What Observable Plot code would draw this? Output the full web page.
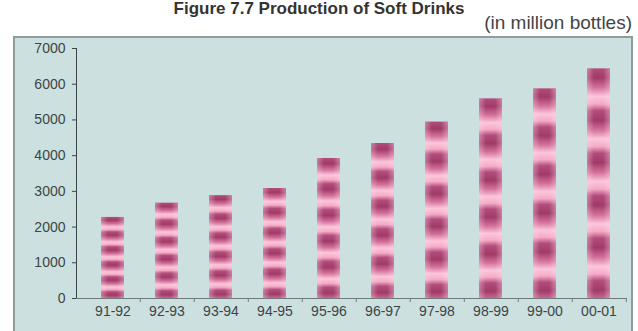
<!DOCTYPE html>
<html>
<head>
<meta charset="utf-8">
<script src="https://cdn.jsdelivr.net/npm/d3@7"></script>
<script src="https://cdn.jsdelivr.net/npm/@observablehq/plot@0.6"></script>
<style>
  html, body { margin: 0; padding: 0; background: #fff; }
  #wrap { position: relative; width: 638px; height: 331px; overflow: hidden;
          font-family: "Liberation Sans", Arial, sans-serif; }
  #panel { position: absolute; left: 13px; top: 36px; width: 616px; height: 320px;
           background: #cde0e0; border: 2px solid #8e9c9c; }
  #title { position: absolute; left: 0; top: 0; width: 638px; text-align: center;
           font-size: 17px; line-height: 17px; font-weight: bold; color: #333; }
  #unit { position: absolute; right: 6px; top: 13px; font-size: 19px; line-height: 19px; color: #444; }
  #chart { position: absolute; left: 0; top: 0; }
</style>
</head>
<body>
<div id="wrap">
  <div id="panel"></div>
  <div id="title">Figure 7.7 Production of Soft Drinks</div>
  <div id="unit">(in million bottles)</div>
  <div id="chart"></div>
</div>
<script>
// Soft drink production by year, in million bottles
const years = ["91-92", "92-93", "93-94", "94-95", "95-96", "96-97", "97-98", "98-99", "99-00", "00-01"];
const bottles = [2270, 2670, 2880, 3080, 3920, 4340, 4940, 5590, 5870, 6430];
const yTicks = [0, 1000, 2000, 3000, 4000, 5000, 6000, 7000];

const data = years.map((year, i) => ({year, bottles: bottles[i]}));

// band layout of the category axis
const W = 638, H = 331;
const mL = 76, mR = 3, mT = 48, mB = 33;
const padInner = 0.58, padOuter = 0.41;
const step = (W - mL - mR) / (years.length - padInner + 2 * padOuter);

// striped candy fill for the bars plus a soft sheen on the sides
const defs = () => {
  const d = d3.create("svg:defs");
  const g = d.append("linearGradient")
    .attr("id", "stripes")
    .attr("x1", 0).attr("y1", 0).attr("x2", 0).attr("y2", 0.185)
    .attr("spreadMethod", "repeat");
  [[0, "#b24c7b"], [0.22, "#a03a69"], [0.45, "#d2709a"], [0.66, "#fcc6da"],
   [0.84, "#f4aac6"], [1, "#b24c7b"]]
    .forEach(([o, c]) => g.append("stop").attr("offset", o).attr("stop-color", c));
  const s = d.append("linearGradient").attr("id", "sheen")
    .attr("x1", 0).attr("y1", 0).attr("x2", 1).attr("y2", 0);
  [[0, 0.4], [0.3, 0], [0.7, 0], [1, 0.4]]
    .forEach(([o, a]) => s.append("stop").attr("offset", o)
      .attr("stop-color", "#ffd6e4").attr("stop-opacity", a));
  return d.node();
};

const chart = Plot.plot({
  width: W, height: H,
  marginLeft: mL, marginRight: mR, marginTop: mT, marginBottom: mB,
  style: {background: "transparent", fontFamily: "'Liberation Sans', Arial, sans-serif",
          fontSize: "14px", color: "#3b4545"},
  x: {domain: years, paddingInner: padInner, paddingOuter: padOuter,
      label: null, tickSize: 0, tickPadding: 8},
  y: {domain: [0, 7000], ticks: yTicks, tickFormat: d3.format("d"), label: null,
      tickSize: 4, tickPadding: 7, line: true},
  marks: [
    defs,
    Plot.barY(data, {x: "year", y: "bottles", fill: "url(#stripes)"}),
    Plot.barY(data, {x: "year", y: "bottles", fill: "url(#sheen)"}),
    Plot.ruleY([0], {stroke: "#6f7a7a", insetRight: 8}),
    Plot.ruleX(years, {x: d => d, y1: 0, y2: 0, dx: step / 2, insetBottom: -4, stroke: "#6f7a7a"})
  ]
});

document.getElementById("chart").appendChild(chart);
</script>
</body>
</html>
